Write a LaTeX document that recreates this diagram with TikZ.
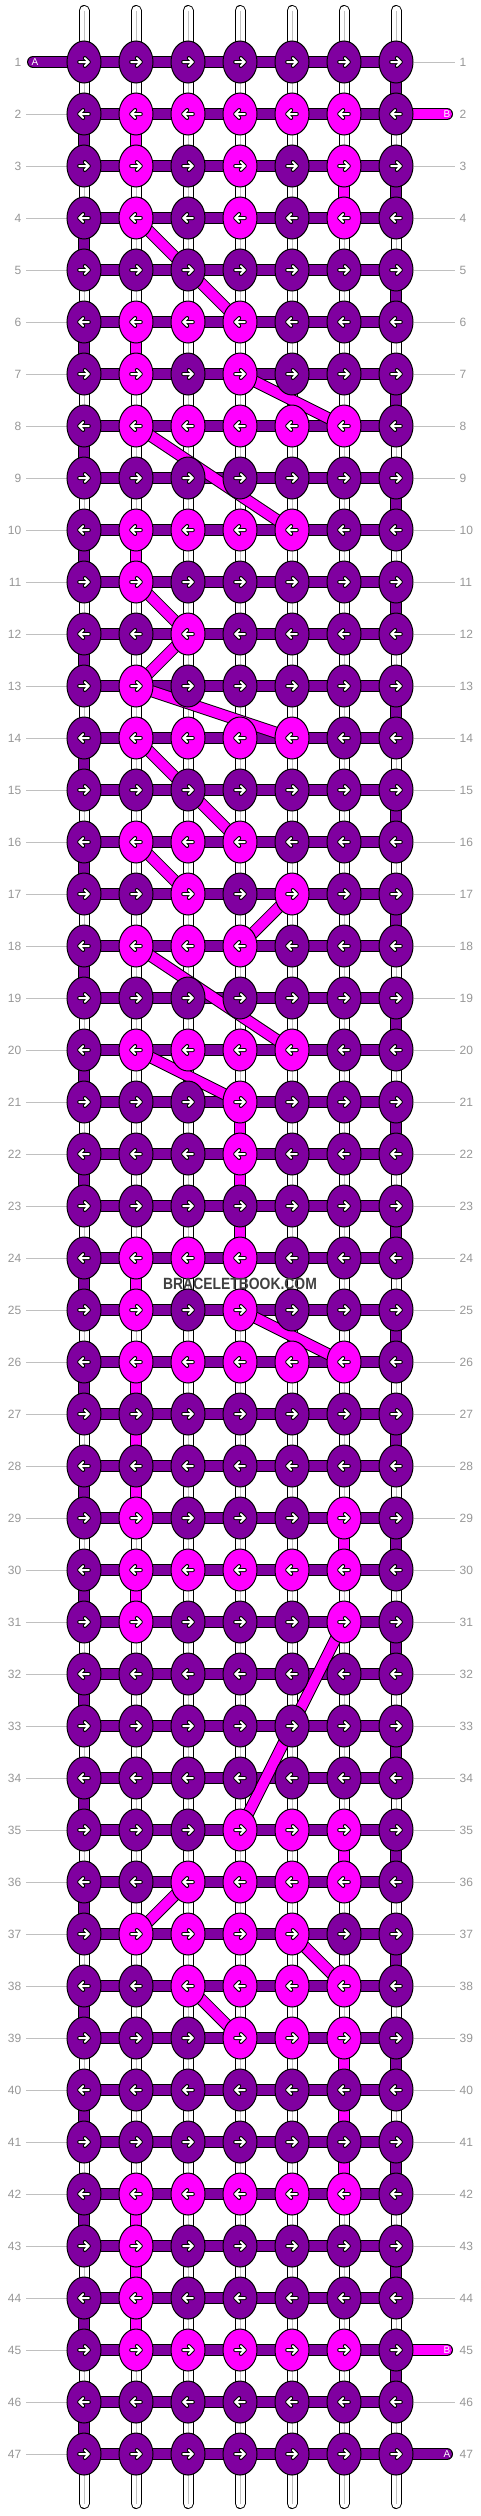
\documentclass[tikz,border=0pt]{standalone}
\usepackage{fontspec}
\setmainfont{Liberation Sans}
\usetikzlibrary{shapes.geometric,backgrounds}

\definecolor{knotA}{RGB}{128,0,160}
\definecolor{knotB}{RGB}{255,0,255}
\definecolor{numgray}{RGB}{150,150,150}
\definecolor{linegray}{RGB}{192,192,192}
\definecolor{markgray}{RGB}{64,64,64}

\tikzset{
  knot/.style={ellipse, draw=black, line width=1pt, minimum width=34pt, minimum height=42pt, inner sep=0pt},
  strand/.style={draw=black, double=white, double distance=9pt, line width=1pt, line cap=round},
  threadA/.style={draw=black, double=knotA, double distance=10pt, line width=1pt},
  threadB/.style={draw=black, double=knotB, double distance=10pt, line width=1pt},
  rownum/.style={text=numgray, font=\fontsize{12}{12}\selectfont, inner xsep=4.5pt, inner ysep=0pt},
  rowline/.style={draw=linegray, line width=1pt},
  endlabel/.style={text=white, font=\fontsize{10}{10}\selectfont, inner sep=0pt},
  arrowmark/.pic={
    \draw[line width=4pt, line cap=round, line join=round] (-4.8,0) -- (4.8,0) (0.8,-4) -- (4.8,0) -- (0.8,4);
    \draw[white, line width=2pt, line cap=round, line join=round] (-4.8,0) -- (4.8,0) (0.8,-4) -- (4.8,0) -- (0.8,4);
  }
}

\begin{document}
\begin{tikzpicture}[x=1pt, y=-1pt]
\useasboundingbox (0,0) rectangle (480,2516);
% which knots are tied with B
\foreach \r/\m in {2/{2,3,4,5,6},3/{2,4,6},4/{2,4,6},6/{2,3,4},7/{2,4},8/{2,3,4,5,6},
    10/{2,3,4,5},11/{2},12/{3},13/{2},14/{2,3,4,5},16/{2,3,4},17/{3,5},18/{2,3,4},
    20/{2,3,4,5},21/{4},22/{4},24/{2,3,4},25/{2,4},26/{2,3,4,5,6},29/{2,6},
    30/{2,3,4,5,6},31/{2,6},35/{4,5,6},36/{3,4,5,6},37/{2,3,4,5},38/{3,4,5,6},
    39/{4,5,6},42/{2,3,4,5,6},43/{2},44/{2},45/{2,3,4,5,6}}
  \foreach \c in \m {\expandafter\gdef\csname mk\r-\c\endcsname{}};
% Knots
\foreach \r in {1,...,47} {
  \pgfmathsetmacro\dir{isodd(\r) ? 1 : -1}
  \foreach \c in {1,...,7} {
    \ifcsname mk\r-\c\endcsname\def\kc{knotB}\else\def\kc{knotA}\fi
    \node[knot, fill=\kc] (k-\r-\c) at ({84+52*(\c-1)}, {62+52*(\r-1)}) {};
    \pic[xscale=\dir] at (k-\r-\c) {arrowmark};
  }
  \node[rownum, anchor=east] (nl-\r) at (26, {62+52*(\r-1)}) {\r};
  \node[rownum, anchor=west] (nr-\r) at (455, {62+52*(\r-1)}) {\r};
}
% string ends
\coordinate (endA1) at (33,62);
\coordinate (endB2) at (447,114);
\coordinate (endB45) at (447,2350);
\coordinate (endA47) at (447,2454);
\node[endlabel] (labA1) at (35,62) {A};
\node[endlabel] (labB2) at (447,114) {B};
\node[endlabel] (labB45) at (447,2350) {B};
\node[endlabel] (labA47) at (447,2454) {A};

\begin{pgfonlayer}{background}
% base strings
\foreach \c in {1,...,7} {
  \coordinate (top-\c) at ({84+52*(\c-1)}, 10.5);
  \coordinate (bot-\c) at ({84+52*(\c-1)}, 2503.5);
  \draw[strand] (top-\c) -- (bot-\c);
  \draw[linegray, line width=1pt] (top-\c) -- (bot-\c);
}
% row guides
\foreach \r in {2,...,47} \draw[rowline] (nl-\r) -- (k-\r-1);
\foreach \r in {1,3,4,...,44,46} \draw[rowline] (k-\r-7) -- (nr-\r);
% string A
\foreach \r in {1,...,47} \draw[threadA] (k-\r-1.center) -- (k-\r-7.center);
\foreach \r in {1,3,...,45} {
  \pgfmathtruncatemacro\s{\r+1}
  \draw[threadA] (k-\r-7.center) -- (k-\s-7.center);
}
\foreach \r in {2,4,...,46} {
  \pgfmathtruncatemacro\s{\r+1}
  \draw[threadA] (k-\r-1.center) -- (k-\s-1.center);
}
\draw[threadA, line cap=round] (endA1) -- (k-1-1.center);
\draw[threadA, line cap=round] (k-47-7.center) -- (endA47);
% string B
\draw[threadB, line cap=round] (endB2) -- (k-2-7.center);
\draw[threadB, line cap=round] (k-45-7.center) -- (endB45);
\foreach \ra/\ca/\rb/\cb in {2/2/3/2,3/6/4/6,4/2/6/4,6/2/7/2,7/4/8/6,8/2/10/5,10/2/11/2,
    11/2/12/3,12/3/13/2,13/2/14/5,14/2/16/4,16/2/17/3,17/5/18/4,18/2/20/5,20/2/21/4,
    21/4/22/4,22/4/24/4,24/2/25/2,25/4/26/6,26/2/29/2,29/6/30/6,30/2/31/2,31/6/35/4,
    35/6/36/6,36/3/37/2,37/5/38/6,38/3/39/4,39/6/42/6,42/2/43/2,43/2/44/2,44/2/45/2}
  \draw[threadB] (k-\ra-\ca.center) -- (k-\rb-\cb.center);
\end{pgfonlayer}

\node[text=markgray, font=\bfseries] (mark) at (240,1284)
  {\scalebox{1}[1.17]{\fontsize{13.9}{14}\selectfont BRACELETBOOK.COM}};
\end{tikzpicture}
\end{document}
